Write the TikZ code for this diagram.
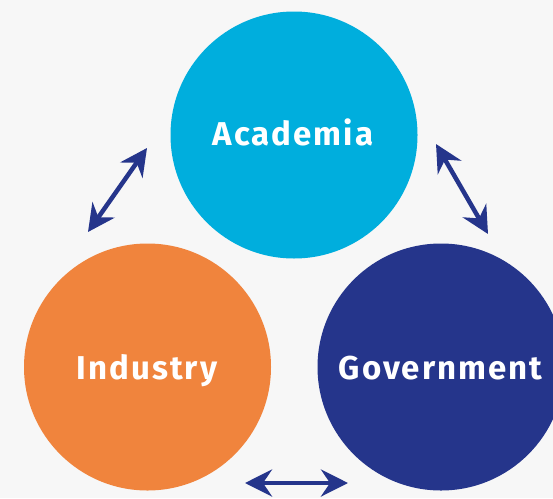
\documentclass[tikz,border=0pt]{standalone}
\usepackage{fontspec}
\setmainfont{Fira Sans}
\usetikzlibrary{arrows.meta}
\definecolor{bg}{HTML}{F7F7F7}
\definecolor{acad}{HTML}{00AEDD}
\definecolor{indus}{HTML}{F0843D}
\definecolor{gov}{HTML}{25358B}
\newfontfamily\labelfont[LetterSpace=6]{Fira Sans}
\tikzset{
  blob/.style={circle, minimum size=247pt, inner sep=0pt},
  lbl/.style={text=white, anchor=base, font=\labelfont\fontsize{33}{33}\selectfont\bfseries},
  link/.style={gov, line width=4.5pt, {Stealth[length=27pt,width=27pt,inset=9pt]}-{Stealth[length=27pt,width=27pt,inset=9pt]}}
}
\begin{document}
\begin{tikzpicture}[x=1pt,y=-1pt]
\useasboundingbox (0,0) rectangle (553,498);
\clip (0,0) rectangle (553,498);
\fill[bg] (0,0) rectangle (553,498);
\node[blob, fill=acad] (A) at (294,135) {};
\node[blob, fill=indus] (I) at (147.5,367) {};
\node[blob, fill=gov] (G) at (441,367) {};
\node[lbl] (At) at (293,145) {Academia};
\node[lbl] (It) at (147,379) {Industry};
\node[lbl] (Gt) at (440.5,379) {Government};
\coordinate (l1) at (88,232);
\coordinate (l2) at (147,148);
\coordinate (r1) at (436,144);
\coordinate (r2) at (488,234);
\coordinate (b1) at (245,483);
\coordinate (b2) at (348,483);
\draw[link] (l1) -- (l2);
\draw[link] (r1) -- (r2);
\draw[link] (b1) -- (b2);
\end{tikzpicture}
\end{document}
